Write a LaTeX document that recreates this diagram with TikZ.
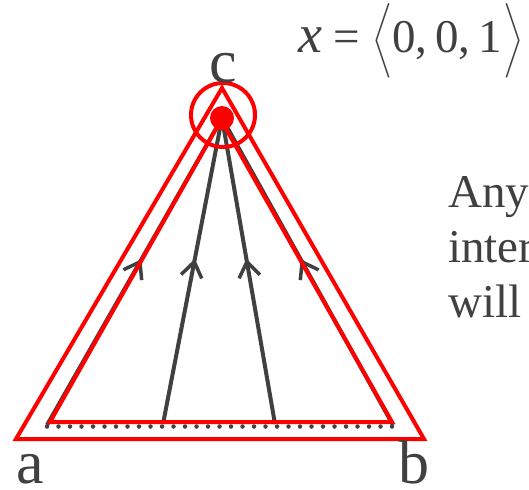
\documentclass[tikz,border=0pt]{standalone}
\usepackage{fix-cm}
\usepackage{amsmath}
\usepackage{fontspec}
\setmainfont{Liberation Serif}
\usetikzlibrary{arrows.meta,decorations.markings}
\definecolor{ink}{HTML}{404040}
\definecolor{redc}{HTML}{FF0000}
\begin{document}
\begin{tikzpicture}[x=1pt,y=-1pt,
  ray/.style={draw=ink,line width=4pt,postaction={decorate},
    decoration={markings,mark=at position 0.54 with {\arrow{Straight Barb[length=15pt,width=21pt,line width=3.5pt]}}}},
  dotline/.style={draw=ink,line width=4.5pt,line cap=round,dash pattern=on 0pt off 11.5pt},
  redtri/.style={draw=redc,line width=4pt},
  lbl/.style={text=ink,inner sep=0pt,text depth=0pt,font=\fontsize{62}{62}\selectfont},
  bigtxt/.style={text=ink,inner sep=0pt,anchor=base west,align=left,font=\fontsize{47}{55}\selectfont}]
\useasboundingbox (0,0) rectangle (529,489);
\clip (0,0) rectangle (529,489);
% key points
\coordinate (c) at (222,118);
\coordinate (p1) at (47,425);
\coordinate (p2) at (163,424);
\coordinate (p3) at (275,424);
\coordinate (p4) at (393,425);
\coordinate (d1) at (47,426.5);
\coordinate (d2) at (393,426.5);
\coordinate (oa) at (16,439);
\coordinate (ob) at (424,439);
\coordinate (oc) at (222,88);
\coordinate (ia) at (50,422);
\coordinate (ib) at (392,422);
\coordinate (ic) at (221,120);
% dotted base
\path[dotline] (d1) -- (d2);
% paths toward c
\path[ray] (p1) -- (c);
\path[ray] (p2) -- (c);
\path[ray] (p3) -- (c);
\path[ray] (p4) -- (c);
% red triangles
\draw[redtri] (oa) -- (ob) -- (oc) -- cycle;
\draw[redtri] (ia) -- (ib) -- (ic) -- cycle;
% circle and dot at c
\node[draw=redc,line width=4pt,circle,minimum size=64pt,inner sep=0pt] (ring) at (223,115) {};
\node[fill=redc,circle,minimum size=24pt,inner sep=0pt] (dot) at (c) {};
% labels
\node[lbl,anchor=base] (la) at (30,483) {a};
\node[lbl,anchor=base] (lb) at (414,483) {b};
\node[lbl,anchor=base] (lc) at (223,83) {c};
\node[text=ink,inner sep=0pt,text depth=0pt,anchor=base west,font=\fontsize{47}{47}\selectfont] (formula) at (298,53)
  {{\fontsize{54}{54}\selectfont\textit{x}} = $\biggl\langle$0,\,0,\,1\kern2pt$\biggr\rangle$};
\node[bigtxt] (txt) at (448,317) {Any\\inter\\will};
\end{tikzpicture}
\end{document}
